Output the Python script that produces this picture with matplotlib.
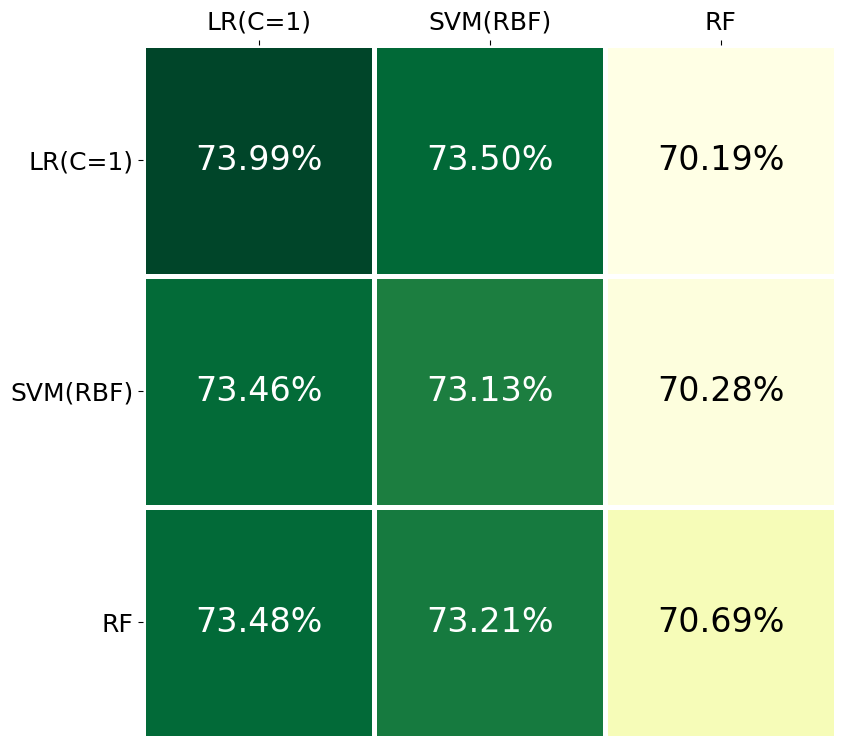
import numpy as np
import matplotlib
matplotlib.use("Agg")
import matplotlib.pyplot as plt

# Model names and accuracy values (%)
models = ["LR(C=1)", "SVM(RBF)", "RF"]
acc = np.array([
    [73.99, 73.50, 70.19],
    [73.46, 73.13, 70.28],
    [73.48, 73.21, 70.69],
])

fig = plt.figure(figsize=(8.47, 7.48), dpi=100)
ax = fig.add_axes([0.1694, 0.0135, 0.818, 0.927])

ax.pcolormesh(acc, cmap="YlGn", vmin=acc.min(), vmax=acc.max(),
              edgecolors="white", linewidth=2.5)
ax.set_xlim(0, 3)
ax.set_ylim(3, 0)

mid = (acc.min() + acc.max()) / 2
for i in range(3):
    for j in range(3):
        color = "white" if acc[i, j] > mid else "black"
        ax.text(j + 0.5, i + 0.5, f"{acc[i, j]:.2f}%", ha="center", va="center",
                fontsize=24, color=color)

ax.set_xticks(np.arange(3) + 0.5)
ax.set_yticks(np.arange(3) + 0.5)
ax.set_xticklabels(models, fontsize=18)
ax.set_yticklabels(models, fontsize=18)
ax.xaxis.tick_top()
for s in ax.spines.values():
    s.set_visible(False)

fig.savefig("out.png", dpi=100)
